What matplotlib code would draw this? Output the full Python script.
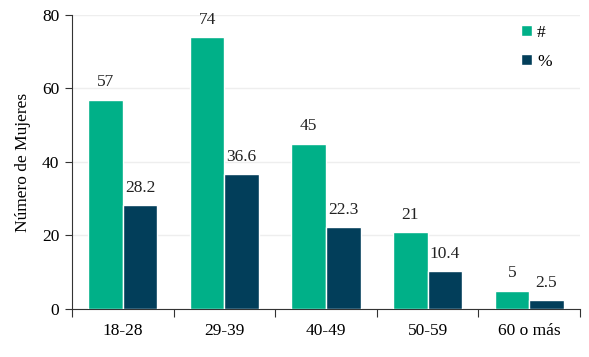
import matplotlib
matplotlib.use("Agg")
import matplotlib.pyplot as plt
import numpy as np

categories = ["18-28", "29-39", "40-49", "50-59", "60 o más"]
counts = [57, 74, 45, 21, 5]
percents = [28.2, 36.6, 22.3, 10.4, 2.5]
count_labels = ["57", "74", "45", "21", "5"]
percent_labels = ["28.2", "36.6", "22.3", "10.4", "2.5"]
series_names = ["#", "%"]
yticks = [0, 20, 40, 60, 80]

green = "#00B088"
navy = "#023E5A"

plt.rcParams['font.family'] = ['Liberation Serif', 'DejaVu Serif']

fig = plt.figure(figsize=(5.89, 3.57), dpi=100)
ax = fig.add_axes([0.1222, 0.1345, 0.8625, 0.8235])

x = np.arange(len(categories))
w = 0.34
b1 = ax.bar(x - w/2, counts, w, color=green, edgecolor="white", linewidth=1, label=series_names[0], zorder=3)
b2 = ax.bar(x + w/2, percents, w, color=navy, edgecolor="white", linewidth=1, label=series_names[1], zorder=3)

for r, t in zip(b1, count_labels):
    ax.text(r.get_x() + r.get_width()/2, r.get_height() + 2.5, t, ha="center", va="bottom", fontsize=12.5, color="#222222")
for r, t in zip(b2, percent_labels):
    ax.text(r.get_x() + r.get_width()/2, r.get_height() + 2.5, t, ha="center", va="bottom", fontsize=12.5, color="#222222")

ax.set_xlim(-0.5, len(categories) - 0.5)
ax.set_ylim(0, 80)
ax.set_yticks(yticks)
ax.set_yticklabels([str(v) for v in yticks], fontsize=12.5)
ax.set_xticks(np.arange(len(categories) + 1) - 0.5)
ax.set_xticklabels([])
ax.set_xticks(x, minor=True)
ax.set_xticklabels(categories, minor=True, fontsize=12.5)
ax.tick_params(axis="x", which="minor", length=0, pad=10)
ax.tick_params(axis="x", which="major", length=6, color="#333333")
ax.tick_params(axis="y", length=5, color="#333333", pad=4)
ax.yaxis.grid(True, color="#EEEEEE", linewidth=1, zorder=0)
ax.set_axisbelow(True)
for s in ["top", "right"]:
    ax.spines[s].set_visible(False)
ax.spines["left"].set_color("#333333")
ax.spines["bottom"].set_color("#333333")
ax.set_ylabel("Número de Mujeres", fontsize=12.5, labelpad=8)

leg = ax.legend(loc="upper right", bbox_to_anchor=(0.975, 1.02), frameon=False, fontsize=12.5,
                handlelength=0.6, handleheight=0.6, handletextpad=0.3, labelspacing=0.75)

fig.savefig("out.png", dpi=100)
